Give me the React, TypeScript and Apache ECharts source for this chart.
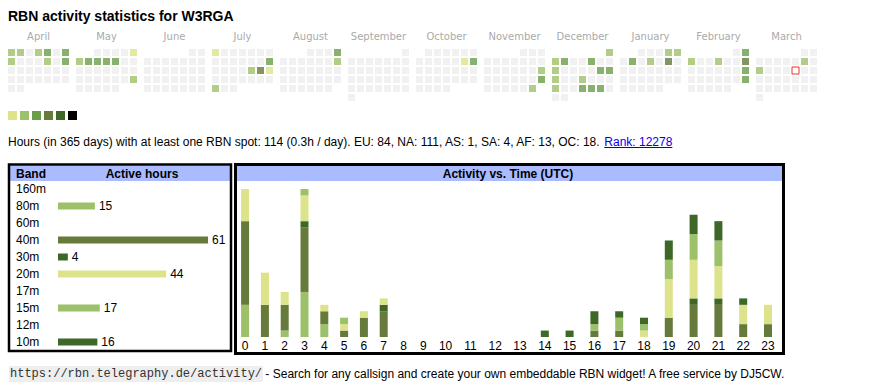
import React, { useEffect, useRef } from "react";
import * as echarts from "echarts";

// ---------------- data ----------------
const TITLE = "RBN activity statistics for W3RGA";
const MONTHS = ["April", "May", "June", "July", "August", "September", "October", "November", "December", "January", "February", "March"];
const START_YEAR = 2024;
const START_MONTH = 4; // April
const TODAY = "2025-03-14";
// [date, activity level 1..6]
const ACTIVE_DAYS: [string, number][] = [
  ["2024-04-01", 2], ["2024-04-02", 2], ["2024-04-04", 2], ["2024-04-05", 3], ["2024-04-07", 3], ["2024-04-08", 2], ["2024-04-12", 2], ["2024-04-14", 3],
  ["2024-05-05", 1], ["2024-05-06", 2], ["2024-05-07", 3], ["2024-05-08", 3], ["2024-05-09", 3], ["2024-05-10", 3], ["2024-05-26", 2],
  ["2024-07-01", 1], ["2024-07-14", 3], ["2024-07-19", 2], ["2024-07-20", 4], ["2024-07-21", 1], ["2024-07-29", 2],
  ["2024-08-04", 3], ["2024-08-11", 2],
  ["2024-10-12", 1], ["2024-10-13", 3],
  ["2024-11-17", 2], ["2024-11-24", 3], ["2024-11-30", 2],
  ["2024-12-01", 2], ["2024-12-02", 2], ["2024-12-03", 3], ["2024-12-06", 3], ["2024-12-09", 2], ["2024-12-14", 3], ["2024-12-15", 3],
  ["2024-12-16", 2], ["2024-12-19", 2], ["2024-12-23", 2], ["2024-12-26", 3], ["2024-12-27", 3], ["2024-12-28", 3],
  ["2025-01-04", 2], ["2025-01-05", 2], ["2025-01-07", 3], ["2025-01-09", 2], ["2025-01-11", 4],
  ["2025-02-02", 3], ["2025-02-03", 2], ["2025-02-06", 2], ["2025-02-09", 4], ["2025-02-16", 3], ["2025-02-23", 3],
  ["2025-03-08", 2], ["2025-03-10", 2],
];
const LEVEL_COLORS = ["#eeeeee", "#dde38b", "#9dc06a", "#6a9e48", "#667a3b", "#3d6828", "#000000"];

const SUMMARY = "Hours (in 365 days) with at least one RBN spot: 114 (0.3h / day). EU: 84, NA: 111, AS: 1, SA: 4, AF: 13, OC: 18. ";
const RANK = "Rank: 12278";

const BANDS = ["160m", "80m", "60m", "40m", "30m", "20m", "17m", "15m", "12m", "10m"];
const BAND_HOURS = [0, 15, 0, 61, 4, 44, 0, 17, 0, 16];
const BAND_COLORS = ["#dde38b", "#9dc06a", "#6a9e48", "#667a3b", "#3d6828", "#dde38b", "#6a9e48", "#9dc06a", "#667a3b", "#3d6828"];

const HOUR_LABELS = ["0", "1", "2", "3", "4", "5", "6", "7", "8", "9", "10", "11", "12", "13", "14", "15", "16", "17", "18", "19", "20", "21", "22", "23"];
const H_160M = [0, 0, 0, 0, 0, 0, 0, 0, 0, 0, 0, 0, 0, 0, 0, 0, 0, 0, 0, 0, 0, 0, 0, 0];
const H_80M = [5, 0, 1, 7, 2, 0, 0, 0, 0, 0, 0, 0, 0, 0, 0, 0, 0, 0, 0, 0, 0, 0, 0, 0];
const H_60M = [0, 0, 0, 0, 0, 0, 0, 0, 0, 0, 0, 0, 0, 0, 0, 0, 0, 0, 0, 0, 0, 0, 0, 0];
const H_40M = [13, 5, 4, 10, 2, 1, 3, 4, 0, 0, 0, 0, 0, 0, 0, 0, 1, 1, 0, 3, 5, 5, 2, 2];
const H_30M = [0, 0, 0, 1, 0, 0, 0, 1, 0, 0, 0, 0, 0, 0, 0, 0, 0, 0, 0, 0, 1, 1, 0, 0];
const H_20M = [5, 5, 2, 4, 1, 1, 1, 1, 0, 0, 0, 0, 0, 0, 0, 0, 0, 0, 1, 6, 6, 5, 3, 3];
const H_17M = [0, 0, 0, 0, 0, 0, 0, 0, 0, 0, 0, 0, 0, 0, 0, 0, 0, 0, 0, 0, 0, 0, 0, 0];
const H_15M = [0, 0, 0, 1, 0, 1, 0, 0, 0, 0, 0, 0, 0, 0, 0, 0, 1, 2, 1, 3, 4, 4, 0, 0];
const H_12M = [0, 0, 0, 0, 0, 0, 0, 0, 0, 0, 0, 0, 0, 0, 0, 0, 0, 0, 0, 0, 0, 0, 0, 0];
const H_10M = [0, 0, 0, 0, 0, 0, 0, 0, 0, 0, 0, 0, 0, 0, 1, 1, 2, 1, 1, 3, 3, 3, 1, 0];
const HOURLY_BY_BAND = [H_160M, H_80M, H_60M, H_40M, H_30M, H_20M, H_17M, H_15M, H_12M, H_10M];

const URL_TEXT = "https://rbn.telegraphy.de/activity/";
const FOOTER_TEXT = " - Search for any callsign and create your own embeddable RBN widget! A free service by DJ5CW.";

// ---------------- layout ----------------
const SANS = "'Liberation Sans', Arial, sans-serif";
const MONO = "'Liberation Mono', 'Courier New', monospace";
const CELL = 7;
const PITCH = 9;
const BLOCK = 68;
const HEADER_BLUE = "#aabbff";
const W1 = 19.8; // column width, one-digit hour
const W2 = 24.8; // column width, two-digit hour
const BAR_W = 8;

function pad(n: number) {
  return n < 10 ? "0" + n : "" + n;
}

function measure(text: string, font: string) {
  const ctx = document.createElement("canvas").getContext("2d");
  if (!ctx) return text.length * 6;
  ctx.font = font;
  return ctx.measureText(text).width;
}

function buildCells() {
  const levels: Record<string, number> = {};
  ACTIVE_DAYS.forEach(([d, l]) => (levels[d] = l));
  const out: any[] = [];
  for (let m = 0; m < 12; m++) {
    const y = START_YEAR + Math.floor((START_MONTH - 1 + m) / 12);
    const mo = (START_MONTH - 1 + m) % 12;
    const days = new Date(Date.UTC(y, mo + 1, 0)).getUTCDate();
    const offset = (new Date(Date.UTC(y, mo, 1)).getUTCDay() + 6) % 7;
    for (let d = 1; d <= days; d++) {
      const idx = d - 1 + offset;
      const col = idx % 7;
      const row = Math.floor(idx / 7);
      const key = `${y}-${pad(mo + 1)}-${pad(d)}`;
      const lvl = levels[key] || 0;
      const isToday = key === TODAY;
      out.push({
        name: key,
        value: [m * BLOCK + col * PITCH + CELL / 2, row * PITCH + CELL / 2, lvl],
        itemStyle: isToday
          ? { color: "#ffffff", borderColor: "#ee0000", borderWidth: 1 }
          : { color: LEVEL_COLORS[lvl] },
      });
    }
  }
  return out;
}

export default function App() {
  const ref = useRef<HTMLDivElement>(null);

  useEffect(() => {
    if (!ref.current) return;
    const chart = echarts.init(ref.current, undefined, { renderer: "svg" });

    // hour column centres (table-like widths)
    const widths = HOUR_LABELS.map((h) => (h.length === 1 ? W1 : W2));
    const centers: number[] = [];
    let acc = 0;
    widths.forEach((w) => {
      centers.push(acc + w / 2);
      acc += w;
    });
    const hourAxisW = acc;
    const totals = HOUR_LABELS.map((_, i) => HOURLY_BY_BAND.reduce((s, arr) => s + arr[i], 0));
    const maxTotal = Math.max(...totals);

    const base = HOUR_LABELS.map(() => 0);
    const hourSeries = HOURLY_BY_BAND.map((arr, bi) => {
      const data: number[][] = [];
      arr.forEach((v, i) => {
        if (v > 0) data.push([centers[i], base[i], base[i] + v]);
        base[i] += v;
      });
      const color = BAND_COLORS[bi];
      return {
        type: "custom",
        name: BANDS[bi],
        xAxisIndex: 2,
        yAxisIndex: 2,
        silent: true,
        encode: { x: 0, y: [1, 2] },
        data,
        renderItem: (_p: any, api: any) => {
          const x = api.value(0);
          const lo = api.coord([x, api.value(1)]);
          const hi = api.coord([x, api.value(2)]);
          return {
            type: "rect",
            shape: { x: lo[0] - BAR_W / 2, y: hi[1], width: BAR_W, height: lo[1] - hi[1] },
            style: { fill: color },
          };
        },
      };
    });

    const summaryFont = `12px ${SANS}`;
    const summaryW = measure(SUMMARY, summaryFont);
    const rankW = measure(RANK, summaryFont);
    const urlW = measure(URL_TEXT, `12px ${MONO}`);

    const legendRects = LEVEL_COLORS.slice(1).map((c, i) => ({
      type: "rect",
      shape: { x: 8 + i * 12, y: 111, width: 9, height: 9 },
      style: { fill: c },
      silent: true,
    }));

    const option: any = {
      animation: false,
      textStyle: { fontFamily: SANS },
      grid: [
        { left: 8, top: 49, width: 12 * BLOCK, height: 6 * PITCH },
        { left: 58, top: 180.5, width: 150, height: 170 },
        { left: 235.2, top: 189, width: hourAxisW, height: 148 },
      ],
      xAxis: [
        {
          type: "value", gridIndex: 0, min: 0, max: 12 * BLOCK, position: "top",
          axisLine: { show: false }, axisTick: { show: false }, splitLine: { show: false },
          axisLabel: {
            customValues: MONTHS.map((_, m) => m * BLOCK + (7 * PITCH - 2) / 2),
            formatter: (v: number) => MONTHS[Math.round((v - (7 * PITCH - 2) / 2) / BLOCK)] || "",
            color: "#aaaaaa", fontFamily: "'DejaVu Sans', Verdana, sans-serif", fontSize: 10, margin: 8,
          },
        },
        {
          type: "value", gridIndex: 1, min: 0, max: Math.max(...BAND_HOURS),
          show: false,
        },
        {
          type: "value", gridIndex: 2, min: 0, max: hourAxisW,
          axisLine: { show: false }, axisTick: { show: false }, splitLine: { show: false },
          axisLabel: {
            customValues: centers,
            formatter: (v: number) => {
              let best = 0;
              centers.forEach((c, i) => {
                if (Math.abs(c - v) < Math.abs(centers[best] - v)) best = i;
              });
              return HOUR_LABELS[best];
            },
            color: "#000", fontSize: 12, margin: 3, fontFamily: SANS,
          },
        },
      ],
      yAxis: [
        { type: "value", gridIndex: 0, min: 0, max: 6 * PITCH, inverse: true, show: false },
        {
          type: "category", gridIndex: 1, data: BANDS, inverse: true,
          axisLine: { show: false }, axisTick: { show: false }, splitLine: { show: false },
          axisLabel: { align: "left", margin: 42, fontSize: 12, color: "#000", fontFamily: SANS },
        },
        { type: "value", gridIndex: 2, min: 0, max: maxTotal, show: false },
      ],
      series: [
        {
          type: "scatter",
          name: "days",
          xAxisIndex: 0,
          yAxisIndex: 0,
          symbol: "rect",
          symbolSize: CELL,
          silent: true,
          data: buildCells(),
        },
        {
          type: "bar",
          name: "Active hours",
          xAxisIndex: 1,
          yAxisIndex: 1,
          barWidth: 7,
          silent: true,
          data: BAND_HOURS.map((v, i) => ({ value: v, itemStyle: { color: BAND_COLORS[i] } })),
          label: {
            show: true, position: "right", distance: 4, fontSize: 12, color: "#000", fontFamily: SANS,
            formatter: (p: any) => (p.value > 0 ? String(p.value) : ""),
          },
        },
        ...hourSeries,
      ],
      graphic: [
        {
          type: "text", left: undefined, x: 8, y: 16, silent: true,
          style: { text: TITLE, font: `bold 14px ${SANS}`, fill: "#000", verticalAlign: "middle" },
        },
        ...legendRects,
        {
          type: "text", x: 8, y: 142, silent: true,
          style: { text: SUMMARY, font: summaryFont, fill: "#000", verticalAlign: "middle" },
        },
        {
          type: "text", x: 8 + summaryW, y: 142, silent: true,
          style: { text: RANK, font: summaryFont, fill: "#0000ee", verticalAlign: "middle" },
        },
        {
          type: "line", silent: true,
          shape: { x1: 8 + summaryW, y1: 147.5, x2: 8 + summaryW + rankW, y2: 147.5 },
          style: { stroke: "#0000ee", lineWidth: 1 },
        },
        // band table box
        { type: "rect", silent: true, shape: { x: 10, y: 165.5, width: 220, height: 15.5 }, style: { fill: HEADER_BLUE } },
        { type: "rect", silent: true, shape: { x: 9, y: 164.5, width: 222, height: 186.5 }, style: { fill: "none", stroke: "#000", lineWidth: 2.5 } },
        { type: "text", x: 16, y: 173.5, silent: true, style: { text: "Band", font: `bold 12px ${SANS}`, fill: "#000", verticalAlign: "middle" } },
        { type: "text", x: 142, y: 173.5, silent: true, style: { text: "Active hours", font: `bold 12px ${SANS}`, fill: "#000", align: "center", verticalAlign: "middle" } },
        // hour chart box
        { type: "rect", silent: true, shape: { x: 237, y: 165.5, width: 545, height: 15.5 }, style: { fill: HEADER_BLUE } },
        { type: "rect", silent: true, shape: { x: 235.5, y: 164.5, width: 548, height: 189 }, style: { fill: "none", stroke: "#000", lineWidth: 3 } },
        { type: "text", x: 508, y: 173.5, silent: true, style: { text: "Activity vs. Time (UTC)", font: `bold 12px ${SANS}`, fill: "#000", align: "center", verticalAlign: "middle" } },
        // footer
        {
          type: "text", x: 9, y: 374, silent: true,
          style: { text: URL_TEXT, font: `12px ${MONO}`, fill: "#333", verticalAlign: "middle", backgroundColor: "#eeeeee", padding: [2, 1] },
        },
        {
          type: "text", x: 10 + urlW, y: 374, silent: true,
          style: { text: FOOTER_TEXT, font: `12px ${SANS}`, fill: "#000", verticalAlign: "middle" },
        },
      ],
    };

    chart.setOption(option);
    return () => chart.dispose();
  }, []);

  return (
    <div
      ref={ref}
      style={{ position: "absolute", left: 0, top: 0, width: 870, height: 390, background: "#fff" }}
    />
  );
}
